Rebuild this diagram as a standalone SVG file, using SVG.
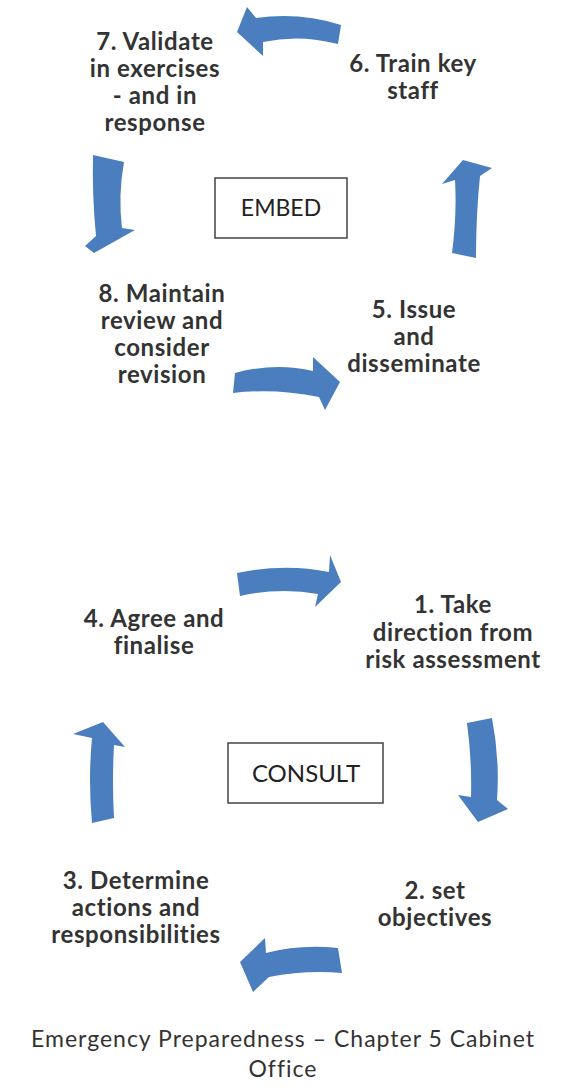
<svg xmlns="http://www.w3.org/2000/svg" width="570" height="1088" viewBox="0 0 570 1088">
<style>
.t{font-family:Lato,"Liberation Sans",sans-serif;font-weight:bold;font-size:24px;letter-spacing:0.6px;fill:#333;text-anchor:middle}
.b{font-family:Lato,"Liberation Sans",sans-serif;font-size:23px;fill:#222;text-anchor:middle}
.b2{font-family:Lato,"Liberation Sans",sans-serif;font-size:24px;fill:#222;text-anchor:middle}
.c{font-family:Lato,"Liberation Sans",sans-serif;font-size:23px;letter-spacing:1px;fill:#333;text-anchor:middle}
.box{fill:#fff;stroke:#444;stroke-width:1.5}
.arr{fill:#4A7EBF}
</style>
<rect width="570" height="1088" fill="#fff"/>
<g id="connectors">
<path class="arr" d="M237,32 L247,7 L256,18 Q300,12 341,25 L338,44 Q300,34 263,42 L263,56 Z"/>
<path class="arr" d="M93,155 L124,162 Q118,195 122,228 L135,230 L94,253 L85,246 L96,236 Q92,195 93,155 Z"/>
<path class="arr" d="M463,160 L492,168 L480,176 Q476,215 476,258 L452,253 Q457,215 455,180 L442,184 Z"/>
<path class="arr" d="M235,373 Q275,362 313,371 L313,357 L340,382 L325,410 L319,397 Q275,388 233,393 Z"/>
<path class="arr" d="M237,573 Q285,563 329,572 L330,555 L341,582 L315,607 L318,594 Q280,587 240,596 Z"/>
<path class="arr" d="M467,723 L492,718 Q500,760 497,800 L508,809 L478,822 L458,795 L471,797 Q472,760 467,723 Z"/>
<path class="arr" d="M240,962 L265,938 L266,953 Q300,944 338,948 L342,973 Q305,970 269,977 L253,992 Z"/>
<path class="arr" d="M103,722 L125,747 L114,745 Q112,780 114,818 L92,823 Q88,780 92,738 L73,734 Z"/>
</g>
<g id="n7"><text class="t" x="155" y="50">7. Validate</text><text class="t" x="155" y="77">in exercises</text><text class="t" x="155" y="104">- and in</text><text class="t" x="155" y="131">response</text></g>
<g id="n6"><text class="t" x="413" y="72">6. Train key</text><text class="t" x="413" y="99">staff</text></g>
<g id="embed"><rect class="box" x="215" y="178" width="132" height="60"/><text class="b" x="281" y="216">EMBED</text></g>
<g id="n8"><text class="t" x="162" y="302">8. Maintain</text><text class="t" x="162" y="329">review and</text><text class="t" x="162" y="356">consider</text><text class="t" x="162" y="383">revision</text></g>
<g id="n5"><text class="t" x="414" y="318">5. Issue</text><text class="t" x="414" y="345">and</text><text class="t" x="414" y="372">disseminate</text></g>
<g id="n4"><text class="t" x="154" y="627">4. Agree and</text><text class="t" x="154" y="654">finalise</text></g>
<g id="n1"><text class="t" x="453" y="613">1. Take</text><text class="t" x="453" y="641">direction from</text><text class="t" x="453" y="668">risk assessment</text></g>
<g id="consult"><rect class="box" x="228" y="743" width="155" height="60"/><text class="b2" x="306" y="782">CONSULT</text></g>
<g id="n3"><text class="t" x="136" y="889">3. Determine</text><text class="t" x="136" y="916">actions and</text><text class="t" x="136" y="943">responsibilities</text></g>
<g id="n2"><text class="t" x="435" y="899">2. set</text><text class="t" x="435" y="926">objectives</text></g>
<g id="caption"><text class="c" x="283" y="1047">Emergency Preparedness – Chapter 5 Cabinet</text><text class="c" x="283" y="1077">Office</text></g>
</svg>
